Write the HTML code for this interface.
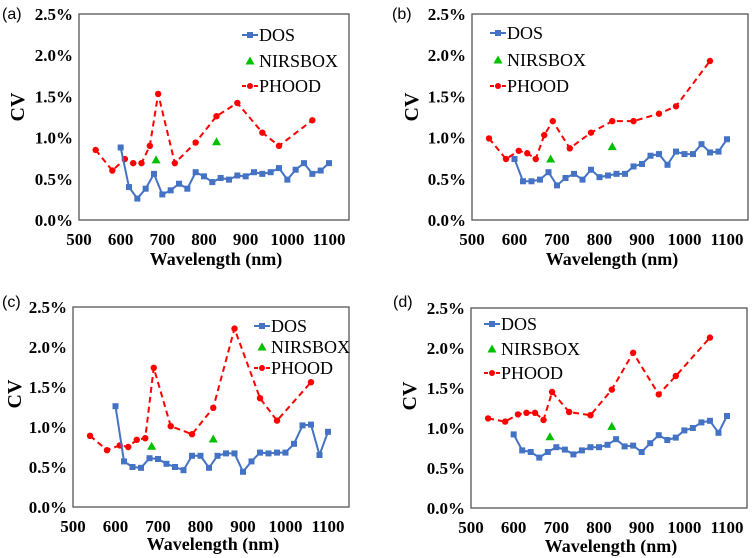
<!DOCTYPE html>
<html><head><meta charset="utf-8">
<style>
html,body{margin:0;padding:0;background:#fff;width:752px;height:558px;overflow:hidden}
#chart text{font-family:"Liberation Serif","Times New Roman","DejaVu Serif",serif}
#chart text.plab{font-family:"Liberation Sans","DejaVu Sans",sans-serif}
</style></head>
<body>
<svg id="chart" width="752" height="558" xmlns="http://www.w3.org/2000/svg"></svg>
<script>
const dosWl=[600,620,640,660,680,700,720,740,760,780,800,820,840,860,880,900,920,940,960,980,1000,1020,1040,1060,1080,1100];
const phoodWl=[540,580,610,630,650,670,690,730,780,830,880,940,980,1060];
const nirsWl=[685,830];
const dosA=[0.88,0.40,0.26,0.38,0.56,0.31,0.36,0.44,0.38,0.58,0.53,0.46,0.51,0.49,0.54,0.53,0.58,0.56,0.58,0.63,0.49,0.61,0.69,0.56,0.60,0.69];
const phoodA=[0.85,0.60,0.74,0.69,0.69,0.90,1.53,0.69,0.94,1.26,1.42,1.06,0.90,1.21];
const nirsA=[0.73,0.95];
const dosB=[0.74,0.47,0.47,0.49,0.58,0.42,0.51,0.56,0.49,0.61,0.52,0.54,0.56,0.56,0.65,0.68,0.78,0.80,0.67,0.83,0.80,0.80,0.92,0.82,0.83,0.98];
const phoodB=[0.99,0.74,0.84,0.81,0.74,1.03,1.20,0.87,1.06,1.20,1.20,1.29,1.38,1.93];
const nirsB=[0.74,0.89];
const dosC=[1.26,0.57,0.50,0.49,0.61,0.60,0.54,0.50,0.46,0.64,0.64,0.49,0.64,0.67,0.67,0.44,0.57,0.68,0.67,0.68,0.68,0.79,1.02,1.03,0.65,0.94];
const phoodC=[0.89,0.71,0.77,0.75,0.84,0.86,1.74,1.01,0.91,1.24,2.23,1.36,1.08,1.56];
const nirsC=[0.76,0.85];
const dosD=[0.92,0.72,0.70,0.63,0.70,0.76,0.73,0.67,0.72,0.76,0.76,0.79,0.86,0.77,0.78,0.70,0.81,0.91,0.85,0.88,0.97,1.00,1.07,1.09,0.94,1.15];
const phoodD=[1.12,1.08,1.17,1.19,1.19,1.10,1.45,1.20,1.16,1.48,1.94,1.42,1.65,2.13];
const nirsD=[0.89,1.02];
const xTicks=[500,600,700,800,900,1000,1100];
const yTicks=[0,0.5,1.0,1.5,2.0,2.5];

const NS="http://www.w3.org/2000/svg";
const svg=document.getElementById('chart');
function mk(tag,attrs,parent,txt){const e=document.createElementNS(NS,tag);for(const k in attrs)e.setAttribute(k,attrs[k]);if(txt!==undefined)e.textContent=txt;(parent||svg).appendChild(e);return e;}

const panels=[
 {id:'a',L:79,T:14,R:349,B:220,x1100:329,dos:dosA,ph:phoodA,ni:nirsA,lab:[2,19],cv:[18,107],xl:245,xt:265,legX:242,legY:[35,61,86]},
 {id:'b',L:472,T:14,R:748,B:220,x1100:727,dos:dosB,ph:phoodB,ni:nirsB,lab:[392,19],cv:[412,107],xl:245,xt:265,legX:490,legY:[33,60,86]},
 {id:'c',L:73,T:307,R:349,B:507,x1100:328,dos:dosC,ph:phoodC,ni:nirsC,lab:[2,307],cv:[15,394],xl:532,xt:550,legX:254,legY:[326,347,368]},
 {id:'d',L:471,T:308,R:747,B:508,x1100:727,dos:dosD,ph:phoodD,ni:nirsD,lab:[393,307],cv:[410,396],xl:533,xt:552,legX:484,legY:[324,349,373]}
];

panels.forEach(p=>{
  const g=mk('g',{});
  
  
  const sx=v=>p.L+(v-500)/600*(p.x1100-p.L);
  const sy=v=>p.B-v/2.5*(p.B-p.T);
  const box=mk('rect',{x:p.L,y:p.T,width:p.R-p.L,height:p.B-p.T,fill:'none',stroke:'#555','stroke-width':1.3},g);
  
  
  const pl=mk('text',{x:p.lab[0],y:p.lab[1],class:'plab','font-size':16},g,'('+p.id+')');
  
  
  yTicks.forEach(v=>{
    const t=mk('text',{x:p.L-6,y:sy(v)+6,'font-weight':'bold','font-size':17,'text-anchor':'end'},g,v.toFixed(1)+'%');
    
    
  });
  xTicks.forEach(v=>{
    const t=mk('text',{x:sx(v),y:p.xl,'font-weight':'bold','font-size':17,'text-anchor':'middle'},g,String(v));
    
    
  });
  const xt=mk('text',{x:(p.L+p.R)/2+2,y:p.xt,'font-weight':'bold','font-size':18,'text-anchor':'middle'},g,'Wavelength (nm)');
  
  
  const yt=mk('text',{x:0,y:0,'font-weight':'bold','font-size':20,'text-anchor':'middle',transform:`translate(${p.cv[0]+6},${p.cv[1]}) rotate(-90)`},g,'CV');
  
  
  const php=mk('polyline',{points:p.ph.map((v,i)=>sx(phoodWl[i])+','+sy(v)).join(' '),fill:'none',stroke:'#ff0000','stroke-width':2,'stroke-dasharray':'6,4'},g);
  
  
  p.ph.forEach((v,i)=>{
    const c=mk('circle',{cx:sx(phoodWl[i]),cy:sy(v),r:3.2,fill:'#ff0000'},g);
    
    
  });
  const dl=mk('polyline',{points:p.dos.map((v,i)=>sx(dosWl[i])+','+sy(v)).join(' '),fill:'none',stroke:'#4472c4','stroke-width':2},g);
  
  
  p.dos.forEach((v,i)=>{
    const r=mk('rect',{x:sx(dosWl[i])-3,y:sy(v)-3,width:6,height:6,fill:'#4472c4'},g);
    
    
  });
  p.ni.forEach((v,i)=>{
    const x=sx(nirsWl[i]),y=sy(v);
    const t=mk('polygon',{points:`${x},${y-4.5} ${x+4.5},${y+3.5} ${x-4.5},${y+3.5}`,fill:'#00c000'},g);
    
    
  });
  const lg=mk('g',{},g);
  
  
  const lx=p.legX, ly=p.legY;
  mk('line',{x1:lx,y1:ly[0],x2:lx+16,y2:ly[0],stroke:'#4472c4','stroke-width':2},lg);
  mk('rect',{x:lx+5,y:ly[0]-3,width:6,height:6,fill:'#4472c4'},lg);
  const e1=mk('text',{x:lx+17,y:ly[0]+6,'font-size':18},lg,'DOS');
  
  
  mk('polygon',{points:`${lx+8},${ly[1]-4.5} ${lx+12.5},${ly[1]+3.5} ${lx+3.5},${ly[1]+3.5}`,fill:'#00c000'},lg);
  const e2=mk('text',{x:lx+17,y:ly[1]+6,'font-size':18},lg,'NIRSBOX');
  
  
  mk('line',{x1:lx,y1:ly[2],x2:lx+16,y2:ly[2],stroke:'#ff0000','stroke-width':2,'stroke-dasharray':'4,2'},lg);
  mk('circle',{cx:lx+8,cy:ly[2],r:3,fill:'#ff0000'},lg);
  const e3=mk('text',{x:lx+17,y:ly[2]+6,'font-size':18},lg,'PHOOD');
  
  
});
</script>
</body></html>
